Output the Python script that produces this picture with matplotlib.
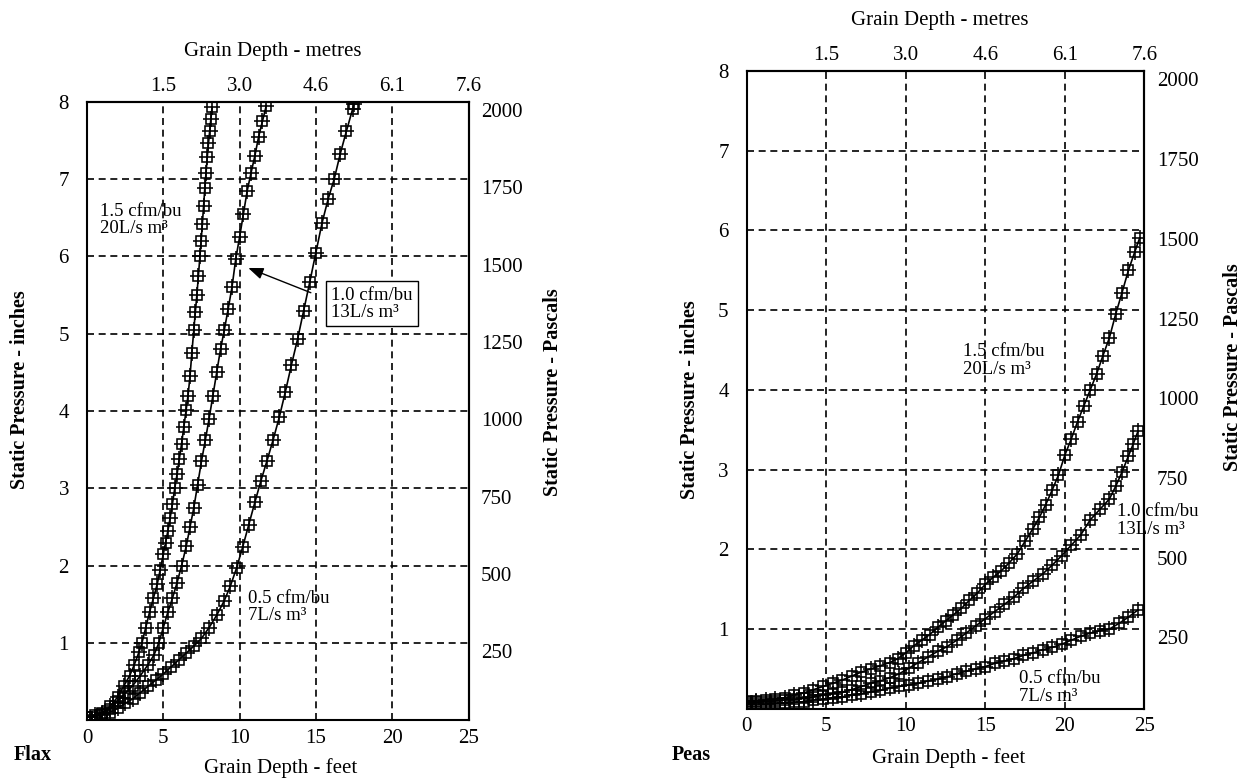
import matplotlib
matplotlib.use('Agg')
import matplotlib.pyplot as plt
from matplotlib.transforms import ScaledTranslation

plt.rcParams['font.family'] = ['Liberation Serif', 'DejaVu Serif']

W, H = 1249, 778

# ---------------- data ----------------
feet_ticks = [0, 5, 10, 15, 20, 25]
metre_ticks_ft = [5, 10, 15, 20, 25]
metre_labels = ['1.5', '3.0', '4.6', '6.1', '7.6']
inch_ticks = [1, 2, 3, 4, 5, 6, 7, 8]
pa_ticks = [250, 500, 750, 1000, 1250, 1500, 1750, 2000]
PA_PER_INCH = 250.0

# Flax, 1.5 cfm/bu
flax15_x = [0, 0.5, 1.0, 1.5, 2.0, 2.4, 2.8, 3.1, 3.4, 3.6, 3.85, 4.1, 4.35, 4.6, 4.8,
            5.0, 5.15, 5.3, 5.45, 5.6, 5.75, 5.9, 6.05, 6.2, 6.35, 6.5, 6.62, 6.75, 6.87,
            7.0, 7.1, 7.2, 7.3, 7.4, 7.48, 7.56, 7.64, 7.72, 7.8, 7.88, 7.96, 8.04, 8.12, 8.2]
flax15_y = [0.05, 0.07, 0.1, 0.18, 0.3, 0.44, 0.58, 0.72, 0.88, 1.0, 1.2, 1.4, 1.58, 1.76, 1.95,
            2.15, 2.3, 2.45, 2.62, 2.8, 3.0, 3.18, 3.38, 3.58, 3.8, 4.02, 4.2, 4.45, 4.75,
            5.05, 5.28, 5.5, 5.75, 6.0, 6.2, 6.42, 6.65, 6.88, 7.08, 7.28, 7.46, 7.62, 7.78, 7.93]
# Flax, 1.0 cfm/bu
flax10_x = [0, 1.0, 1.5, 2.0, 2.5, 3.0, 3.5, 4.0, 4.4, 4.7, 5.0, 5.3, 5.6, 5.9, 6.2, 6.5,
            6.75, 7.0, 7.25, 7.5, 7.75, 8.0, 8.25, 8.5, 8.75, 9.0, 9.25, 9.5, 9.75, 10.0,
            10.25, 10.5, 10.75, 11.0, 11.25, 11.5, 11.75]
flax10_y = [0.05, 0.08, 0.15, 0.25, 0.35, 0.45, 0.58, 0.72, 0.85, 1.0, 1.2, 1.4, 1.58, 1.78,
            2.0, 2.25, 2.5, 2.75, 3.05, 3.35, 3.62, 3.9, 4.2, 4.5, 4.8, 5.05, 5.32, 5.6, 5.97,
            6.25, 6.55, 6.85, 7.08, 7.3, 7.55, 7.75, 7.95]
# Flax, 0.5 cfm/bu
flax05_x = [0, 0.5, 1.0, 1.5, 2.0, 2.5, 3.0, 3.5, 4.0, 4.5, 5.0, 5.5, 6.0, 6.5, 7.0, 7.5,
            8.0, 8.5, 9.0, 9.4, 9.8, 10.2, 10.6, 11.0, 11.4, 11.8, 12.2, 12.6, 13.0, 13.4,
            13.8, 14.2, 14.6, 15.0, 15.4, 15.8, 16.2, 16.6, 17.0, 17.4, 17.5]
flax05_y = [0.05, 0.05, 0.07, 0.1, 0.16, 0.22, 0.28, 0.36, 0.44, 0.52, 0.6, 0.69, 0.78, 0.87,
            0.96, 1.06, 1.2, 1.36, 1.55, 1.74, 1.97, 2.24, 2.53, 2.82, 3.1, 3.36, 3.63, 3.92,
            4.25, 4.6, 4.93, 5.3, 5.67, 6.05, 6.43, 6.74, 7.0, 7.33, 7.62, 7.9, 7.97]

# Peas, 1.5 cfm/bu
peas15_x = [0, 0.6, 1.2, 1.8, 2.4, 3.0, 3.6, 4.2, 4.8, 5.4, 6.0, 6.6, 7.2, 7.8, 8.4, 9.0,
            9.5, 10.0, 10.5, 11.0, 11.5, 12.0, 12.5, 13.0, 13.5, 14.0, 14.5, 15.0, 15.5,
            16.0, 16.5, 17.0, 17.5, 18.0, 18.4, 18.8, 19.2, 19.6, 20.0, 20.4, 20.8, 21.2,
            21.6, 22.0, 22.4, 22.8, 23.2, 23.6, 24.0, 24.4, 24.7]
peas15_y = [0.1, 0.1, 0.11, 0.12, 0.14, 0.17, 0.2, 0.24, 0.28, 0.32, 0.36, 0.41, 0.46, 0.5,
            0.54, 0.58, 0.63, 0.7, 0.79, 0.86, 0.93, 1.02, 1.1, 1.18, 1.26, 1.36, 1.45, 1.56,
            1.65, 1.73, 1.83, 1.94, 2.1, 2.26, 2.4, 2.56, 2.74, 2.93, 3.18, 3.38, 3.6, 3.8,
            4.0, 4.2, 4.43, 4.65, 4.95, 5.22, 5.5, 5.73, 5.9]
# Peas, 1.0 cfm/bu
peas10_x = [0, 0.6, 1.2, 1.8, 2.4, 3.0, 3.6, 4.2, 4.8, 5.4, 6.0, 6.6, 7.2, 7.8, 8.4, 9.0,
            9.6, 10.2, 10.8, 11.4, 12.0, 12.6, 13.2, 13.8, 14.4, 15.0, 15.6, 16.2, 16.8,
            17.4, 18.0, 18.6, 19.2, 19.8, 20.4, 21.0, 21.6, 22.2, 22.8, 23.2, 23.6, 24.0,
            24.3, 24.6]
peas10_y = [0.08, 0.08, 0.09, 0.1, 0.11, 0.12, 0.13, 0.15, 0.17, 0.19, 0.21, 0.24, 0.28,
            0.32, 0.35, 0.39, 0.44, 0.51, 0.58, 0.65, 0.72, 0.78, 0.86, 0.95, 1.04, 1.13,
            1.22, 1.31, 1.4, 1.51, 1.6, 1.69, 1.8, 1.92, 2.05, 2.18, 2.37, 2.5, 2.63, 2.79,
            2.97, 3.17, 3.32, 3.48]
# Peas, 0.5 cfm/bu
peas05_x = [0, 0.6, 1.2, 1.8, 2.4, 3.0, 3.6, 4.2, 4.8, 5.4, 6.0, 6.6, 7.2, 7.8, 8.4, 9.0,
            9.6, 10.2, 10.8, 11.4, 12.0, 12.6, 13.2, 13.8, 14.4, 15.0, 15.6, 16.2, 16.8,
            17.4, 18.0, 18.6, 19.2, 19.8, 20.4, 21.0, 21.6, 22.2, 22.8, 23.4, 24.0, 24.6]
peas05_y = [0.06, 0.06, 0.06, 0.07, 0.07, 0.08, 0.09, 0.11, 0.12, 0.14, 0.15, 0.17, 0.19,
            0.21, 0.23, 0.26, 0.28, 0.3, 0.32, 0.35, 0.37, 0.4, 0.44, 0.47, 0.5, 0.53, 0.57,
            0.6, 0.63, 0.67, 0.7, 0.74, 0.77, 0.81, 0.86, 0.91, 0.95, 0.98, 1.0, 1.07, 1.15,
            1.24]

flax_labels = ['1.5 cfm/bu\n20L/s m³', '1.0 cfm/bu\n13L/s m³', '0.5 cfm/bu\n7L/s m³']
peas_labels = flax_labels

# ---------------- figure ----------------
fig = plt.figure(figsize=(W / 100, H / 100), dpi=100)


def px_rect(x0, y0, x1, y1):
    return [x0 / W, 1 - y1 / H, (x1 - x0) / W, (y1 - y0) / H]


ax1 = fig.add_axes(px_rect(87, 101.7, 468.5, 720.4))
ax2 = fig.add_axes(px_rect(746.7, 71, 1144.3, 708.8))

FS = 15
BOLD_FS = 14.5
ANN_FS = 13.5


def fig_xy(px, py):
    return px / W, 1 - py / H


def style(ax, top_lbl_px, bot_lbl_px, left_lbl_px, right_lbl_px):
    ax.set_xlim(0, 25)
    ax.set_ylim(0, 8)
    ax.set_xticks(feet_ticks)
    ax.set_xticklabels([str(v) for v in feet_ticks])
    ax.set_yticks(inch_ticks)
    ax.set_yticklabels([str(v) for v in inch_ticks])
    ax.tick_params(axis='x', length=0, pad=6, labelsize=FS)
    ax.tick_params(axis='y', length=0, pad=13, labelsize=FS)
    for s in ax.spines.values():
        s.set_linewidth(1.5)
        s.set_color('black')
    for v in metre_ticks_ft[:-1]:
        ax.axvline(v, color='black', lw=1.2, dashes=(4.2, 2.8), zorder=1)
    for v in inch_ticks[:-1]:
        ax.axhline(v, color='black', lw=1.2, dashes=(4.2, 2.8), zorder=1)

    ax.set_xlabel('Grain Depth - feet', fontsize=FS)
    ax.xaxis.set_label_coords(*fig_xy(*bot_lbl_px), transform=fig.transFigure)
    ax.xaxis.label.set_va('center')
    ax.set_ylabel('Static Pressure - inches', fontsize=BOLD_FS, fontweight='bold')
    ax.yaxis.set_label_coords(*fig_xy(*left_lbl_px), transform=fig.transFigure)
    ax.yaxis.label.set_va('center')

    top = ax.secondary_xaxis('top')
    top.set_xticks(metre_ticks_ft)
    top.set_xticklabels(metre_labels)
    top.tick_params(length=0, pad=4, labelsize=FS)
    top.spines['top'].set_linewidth(1.5)
    top.set_xlabel('Grain Depth - metres', fontsize=FS)
    top.xaxis.set_label_coords(*fig_xy(*top_lbl_px), transform=fig.transFigure)
    top.xaxis.label.set_va('center')

    right = ax.secondary_yaxis('right', functions=(lambda y: y * PA_PER_INCH,
                                                   lambda p: p / PA_PER_INCH))
    right.set_yticks(pa_ticks)
    right.set_yticklabels([str(v) for v in pa_ticks])
    right.tick_params(length=0, pad=9, labelsize=FS)
    right.spines['right'].set_linewidth(1.5)
    right.set_ylabel('Static Pressure - Pascals', fontsize=BOLD_FS, fontweight='bold')
    right.yaxis.set_label_coords(*fig_xy(*right_lbl_px), transform=fig.transFigure)
    right.yaxis.label.set_va('center')
    return right


def curve(ax, x, y):
    ax.plot(x, y, color='black', lw=1.2, marker='s', ms=7.2, mfc='none', mec='black',
            mew=1.15, zorder=3)
    ax.plot(x, y, ls='none', marker='+', ms=11, mec='black', mew=1.15, zorder=3)


r1 = style(ax1, (273, 51.7), (281, 768), (20, 390), (553, 392))
r2 = style(ax2, (939.5, 20), (948.6, 758), (690, 400), (1233.5, 367))

curve(ax1, flax15_x, flax15_y)
curve(ax1, flax10_x, flax10_y)
curve(ax1, flax05_x, flax05_y)

curve(ax2, peas15_x, peas15_y)
curve(ax2, peas10_x, peas10_y)
curve(ax2, peas05_x, peas05_y)

# annotations - flax
ax1.text(0.85, 6.465, flax_labels[0], fontsize=ANN_FS, ha='left', va='center',
         linespacing=1.0, zorder=4)
ax1.text(16.0, 5.39, flax_labels[1], fontsize=ANN_FS, ha='left', va='center',
         linespacing=1.0, zorder=5,
         bbox=dict(boxstyle='square,pad=0.3', fc='white', ec='black', lw=1.0))
ax1.annotate('', xy=(10.57, 5.85), xytext=(14.67, 5.53),
             arrowprops=dict(arrowstyle='-|>,head_length=0.9,head_width=0.35',
                             color='black', lw=1.0, shrinkA=0, shrinkB=0), zorder=4)
ax1.text(10.58, 1.46, flax_labels[2], fontsize=ANN_FS, ha='left', va='center',
         linespacing=1.0, zorder=4)

# annotations - peas
ax2.text(13.6, 4.37, peas_labels[0], fontsize=ANN_FS, ha='left', va='center',
         linespacing=1.1, zorder=4)
ax2.text(23.3, 2.36, peas_labels[1], fontsize=ANN_FS, ha='left', va='center',
         linespacing=1.1, zorder=4)
ax2.text(17.15, 0.27, peas_labels[2], fontsize=ANN_FS, ha='left', va='center',
         linespacing=1.1, zorder=4)

# crop names
fig.text(14 / W, 1 - 755 / H, 'Flax', fontsize=BOLD_FS, fontweight='bold', ha='left', va='center')
fig.text(672 / W, 1 - 755 / H, 'Peas', fontsize=BOLD_FS, fontweight='bold', ha='left', va='center')

# shift the Pascal tick labels slightly below the grid lines
off = ScaledTranslation(0, -6 / 72, fig.dpi_scale_trans)
for r in (r1, r2):
    for t in r.yaxis.get_major_ticks():
        t.label2.set_transform(t.label2.get_transform() + off)

fig.savefig('out.png', dpi=100)
